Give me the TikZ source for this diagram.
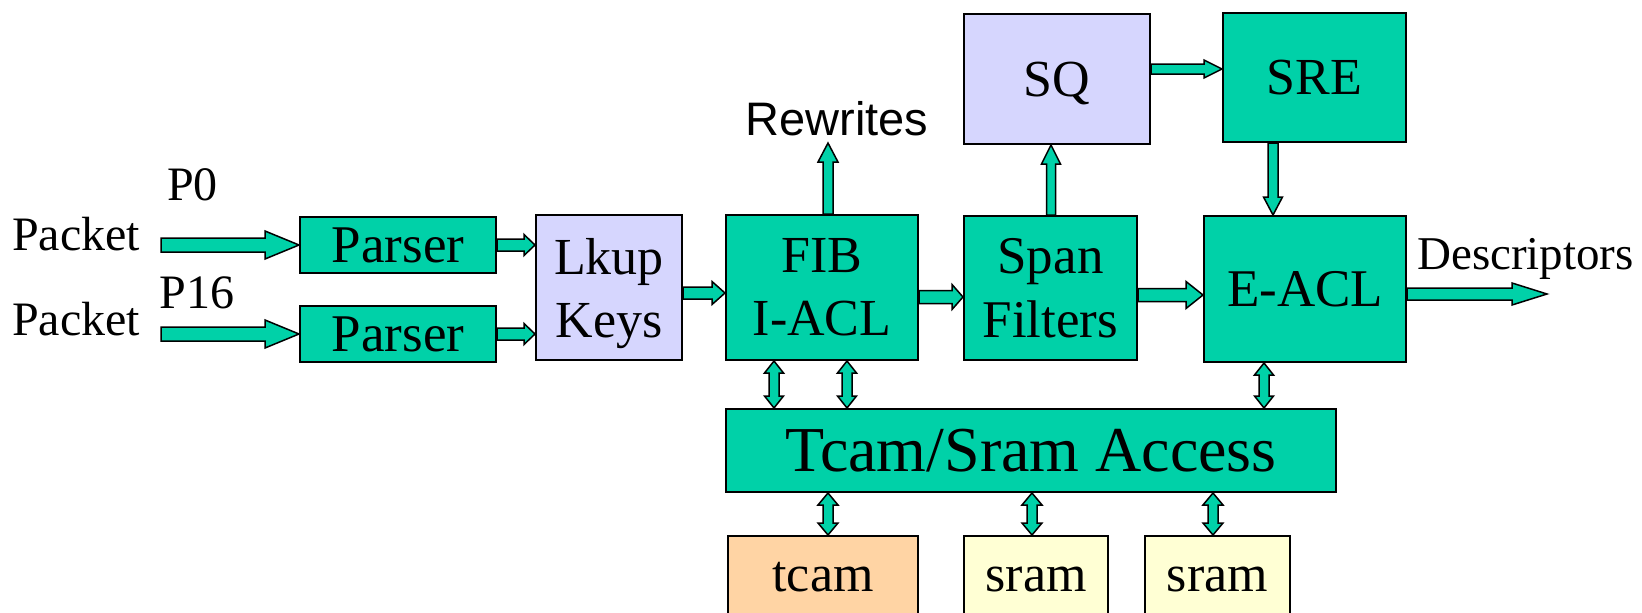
\documentclass[tikz,border=0pt]{standalone}
\usepackage{fontspec}
\setmainfont{Liberation Serif}
\newfontfamily\sansfam{Liberation Sans}
\usetikzlibrary{calc}

\definecolor{unitgreen}{RGB}{0,209,168}
\definecolor{queuelav}{RGB}{214,214,254}
\definecolor{tcampeach}{RGB}{255,212,164}
\definecolor{sramcream}{RGB}{255,255,212}

\newcommand\fsz[2]{\fontsize{#1}{#2}\selectfont}
\newcommand\nodepth[1]{\raisebox{0pt}[\height][0pt]{#1}}

\tikzset{
  unitbox/.style={draw=black, line width=2pt, inner sep=0pt, align=center, fill=unitgreen},
  lavbox/.style={unitbox, fill=queuelav},
  membox/.style={draw=black, line width=2pt, inner xsep=0pt, inner ysep=0pt,
    anchor=north, text height=55pt, text depth=60pt, font=\fsz{52}{62}},
  caption/.style={inner sep=0pt, anchor=base},
  flow/.style={draw=black, line width=1.5pt, fill=unitgreen, line join=miter},
}

% block arrow with one head: start, tip, half shaft, half head, head length
\newcommand\blockarrow[5]{%
  \coordinate (ba-s) at #1;
  \coordinate (ba-t) at #2;
  \coordinate (ba-h) at ($(ba-t)!#5!(ba-s)$);
  \draw[flow] ($(ba-s)!#3!90:(ba-t)$) -- ($(ba-h)!#3!-90:(ba-s)$)
    -- ($(ba-h)!#4!-90:(ba-s)$) -- (ba-t) -- ($(ba-h)!#4!90:(ba-s)$)
    -- ($(ba-h)!#3!90:(ba-s)$) -- ($(ba-s)!#3!-90:(ba-t)$) -- cycle;
}
% block arrow with a head at both ends
\newcommand\dblarrow[5]{%
  \coordinate (da-s) at #1;
  \coordinate (da-t) at #2;
  \coordinate (da-a) at ($(da-s)!#5!(da-t)$);
  \coordinate (da-b) at ($(da-t)!#5!(da-s)$);
  \draw[flow] (da-s) -- ($(da-a)!#4!90:(da-t)$) -- ($(da-a)!#3!90:(da-t)$)
    -- ($(da-b)!#3!-90:(da-s)$) -- ($(da-b)!#4!-90:(da-s)$) -- (da-t)
    -- ($(da-b)!#4!90:(da-s)$) -- ($(da-b)!#3!90:(da-s)$)
    -- ($(da-a)!#3!-90:(da-t)$) -- ($(da-a)!#4!-90:(da-t)$) -- cycle;
}

\begin{document}
\begin{tikzpicture}[x=1pt, y=-1pt]
\useasboundingbox (0,0) rectangle (1642,613);

% input labels
\node[caption, font=\fsz{48}{57}] (pk0) at (76,250) {Packet};
\node[caption, font=\fsz{48}{57}] (pk16) at (76,335) {Packet};
\node[caption, font=\fsz{48}{57}] (p0) at (192.5,200) {P0};
\node[caption, font=\fsz{48}{57}] (p16) at (197,308) {P16};

% pipeline stages
\node[unitbox, minimum width=196pt, minimum height=56pt, font=\fsz{53}{63}] (parser1) at (398,245) {Parser};
\node[unitbox, minimum width=196pt, minimum height=56pt, font=\fsz{53}{63}] (parser2) at (398,334) {Parser};
\node[lavbox, minimum width=146pt, minimum height=145pt, font=\fsz{52}{63}] (lkup) at (609,287.5) {Lkup\\\nodepth{Keys}};
\node[unitbox, minimum width=192pt, minimum height=145pt, font=\fsz{52}{63}] (fib) at (822,287.5) {FIB\\I-ACL};
\node[unitbox, minimum width=173pt, minimum height=144pt, font=\fsz{53}{64}] (span) at (1050.5,288) {Span\\Filters};
\node[unitbox, minimum width=202pt, minimum height=146pt, font=\fsz{53}{64}] (eacl) at (1305,289) {E-ACL};
\node[lavbox, minimum width=186pt, minimum height=130pt, text depth=0pt, font=\fsz{52}{63}] (sq) at (1057,79) {SQ};
\node[unitbox, minimum width=183pt, minimum height=129pt, font=\fsz{52}{63}] (sre) at (1314.5,77.5) {SRE};
\node[unitbox, minimum width=610pt, minimum height=83pt, font=\fsz{64}{77}] (acc) at (1031,450.5) {Tcam/Sram Access};

% memories
\node[membox, fill=tcampeach, minimum width=190pt] (tcam) at (823,535) {tcam};
\node[membox, fill=sramcream, minimum width=144pt] (sram1) at (1036,535) {sram};
\node[membox, fill=sramcream, minimum width=145pt] (sram2) at (1217.5,535) {sram};

% output labels
\node[caption, font=\sansfam\fsz{47}{56}] (rw) at (837,135) {Rewrites};
\node[caption, anchor=base west, font=\fsz{47}{56}] (desc) at (1417,269) {Descriptors};

% free ends of the open arrows
\coordinate (in0) at (161,245);
\coordinate (in16) at (161,334);
\coordinate (rwtip) at (828,143);
\coordinate (dsctip) at (1547,294);

% data flow
\blockarrow{(in0)}{(parser1.west)}{7pt}{14pt}{34pt}
\blockarrow{(in16)}{(parser2.west)}{7pt}{14pt}{34pt}
\blockarrow{(parser1.east)}{(lkup.west |- parser1.east)}{6pt}{10.5pt}{11pt}
\blockarrow{(parser2.east)}{(lkup.west |- parser2.east)}{6pt}{10.5pt}{11pt}
\blockarrow{(lkup.east |- 0,293)}{(fib.west |- 0,293)}{6pt}{11.5pt}{13pt}
\blockarrow{(fib.east |- 0,297)}{(span.west |- 0,297)}{6.5pt}{12.5pt}{11pt}
\blockarrow{(span.east |- 0,295)}{(eacl.west |- 0,295)}{6.5pt}{13.5pt}{17pt}
\blockarrow{(eacl.east |- 0,294)}{(dsctip)}{6pt}{11pt}{35pt}
\blockarrow{(fib.north -| rwtip)}{(rwtip)}{5pt}{10pt}{19pt}
\blockarrow{(span.north -| 1051,0)}{(sq.south -| 1051,0)}{4.5pt}{9.5pt}{19pt}
\blockarrow{(sq.east |- 0,69)}{(sre.west |- 0,69)}{5pt}{9pt}{18pt}
\blockarrow{(sre.south -| 1273,0)}{(eacl.north -| 1273,0)}{5pt}{9.5pt}{18pt}

% table access paths
\dblarrow{(fib.south -| 774,0)}{(acc.north -| 774,0)}{5pt}{9.5pt}{12pt}
\dblarrow{(fib.south -| 847,0)}{(acc.north -| 847,0)}{5pt}{9.5pt}{12pt}
\dblarrow{(eacl.south -| 1264,0)}{(acc.north -| 1264,0)}{5pt}{9.5pt}{12pt}
\dblarrow{(acc.south -| 828,0)}{(tcam.north -| 828,0)}{5pt}{10pt}{12pt}
\dblarrow{(acc.south -| 1032,0)}{(sram1.north -| 1032,0)}{5pt}{10pt}{12pt}
\dblarrow{(acc.south -| 1213,0)}{(sram2.north -| 1213,0)}{5pt}{10pt}{12pt}
\end{tikzpicture}
\end{document}
